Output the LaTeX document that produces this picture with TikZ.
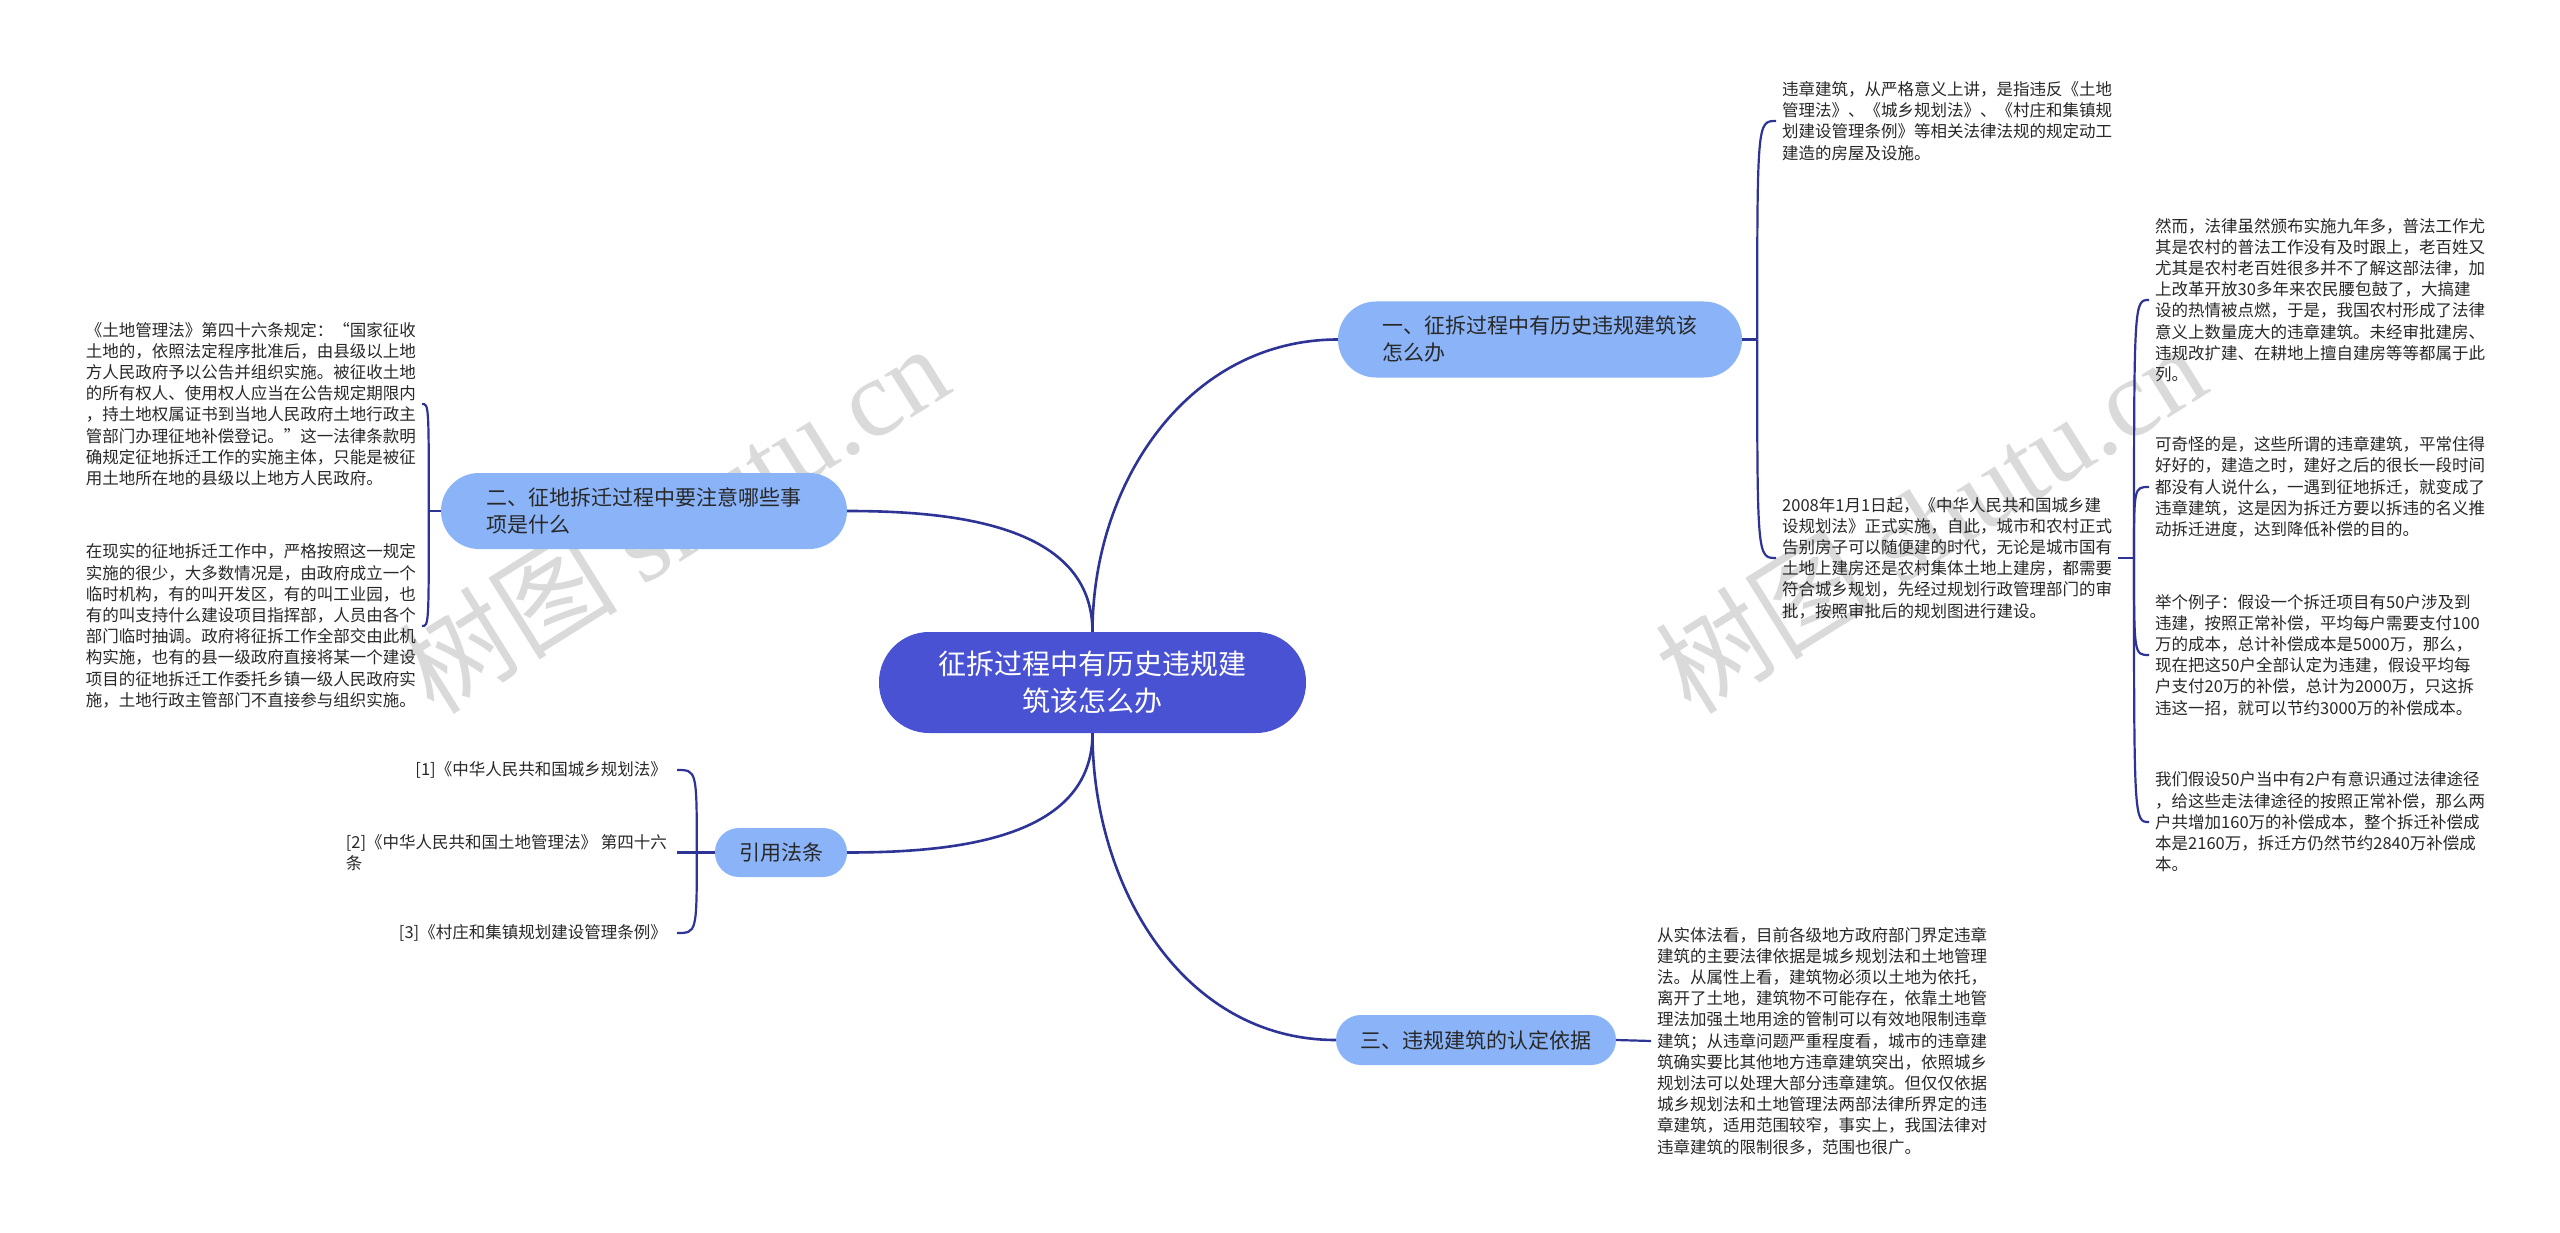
\documentclass[tikz,border=0pt]{standalone}
\usepackage{fontspec}
\setmainfont{Noto Sans CJK SC}
\newfontfamily\wmlatin{Liberation Serif}
\usetikzlibrary{calc}
\definecolor{linec}{RGB}{46,52,150}
\definecolor{rootc}{RGB}{74,82,212}
\definecolor{branchc}{RGB}{139,180,248}
\definecolor{txtc}{RGB}{40,40,40}
\definecolor{wmc}{RGB}{218,218,218}
\begin{document}
\begin{tikzpicture}[x=1pt,y=-1pt,
  conn/.style={draw=linec,line width=2.6pt},
  brk/.style={draw=linec,line width=2.2pt},
  root/.style={fill=rootc,text=white,rounded corners=50pt,minimum width=427pt,minimum height=101pt,inner sep=0pt,align=center,font=\fontsize{28}{37}\selectfont},
  branch/.style={fill=branchc,text=txtc,inner sep=0pt,align=left,font=\fontsize{21}{27}\selectfont},
  leaf/.style={text=txtc,inner xsep=6pt,inner ysep=2pt,align=left,font=\fontsize{16.5}{21.2}\selectfont},
  wm/.style={text=wmc,rotate=32,inner sep=0pt,font=\fontsize{110}{110}\selectfont}
]
\useasboundingbox[fill=white] (0,0) rectangle (2560,1233);

% watermarks
\node[wm] (wm1) at (673,518) {树图 {\wmlatin shutu.cn}};
\node[wm] (wm2) at (1930,518) {树图 {\wmlatin shutu.cn}};

% root and branches
\node[root] (root) at (1092.5,682.5) {征拆过程中有历史违规建\\筑该怎么办};
\node[branch,minimum width=404pt,minimum height=76pt,rounded corners=38pt] (b1) at (1540,339.5) {一、征拆过程中有历史违规建筑该\\怎么办};
\node[branch,minimum width=406pt,minimum height=76pt,rounded corners=38pt] (b2) at (644,511) {二、征地拆迁过程中要注意哪些事\\项是什么};
\node[branch,minimum width=132pt,minimum height=49pt,rounded corners=24pt,align=center] (b4) at (781,852.5) {引用法条};
\node[branch,minimum width=280pt,minimum height=50pt,rounded corners=25pt] (b3) at (1476,1040) {三、违规建筑的认定依据};

% branch 1 leaves
\node[leaf,anchor=west] (t1) at (1776,121) {违章建筑，从严格意义上讲，是指违反《土地\\
管理法》、《城乡规划法》、《村庄和集镇规\\
划建设管理条例》等相关法律法规的规定动工\\
建造的房屋及设施。};
\node[leaf,anchor=west] (t2) at (1776,558) {2008年1月1日起，《中华人民共和国城乡建\\
设规划法》正式实施，自此，城市和农村正式\\
告别房子可以随便建的时代，无论是城市国有\\
土地上建房还是农村集体土地上建房，都需要\\
符合城乡规划，先经过规划行政管理部门的审\\
批，按照审批后的规划图进行建设。};

% right column leaves
\node[leaf,anchor=west] (t3) at (2149,300) {然而，法律虽然颁布实施九年多，普法工作尤\\
其是农村的普法工作没有及时跟上，老百姓又\\
尤其是农村老百姓很多并不了解这部法律，加\\
上改革开放30多年来农民腰包鼓了，大搞建\\
设的热情被点燃，于是，我国农村形成了法律\\
意义上数量庞大的违章建筑。未经审批建房、\\
违规改扩建、在耕地上擅自建房等等都属于此\\
列。};
\node[leaf,anchor=west] (t4) at (2149,487) {可奇怪的是，这些所谓的违章建筑，平常住得\\
好好的，建造之时，建好之后的很长一段时间\\
都没有人说什么，一遇到征地拆迁，就变成了\\
违章建筑，这是因为拆迁方要以拆违的名义推\\
动拆迁进度，达到降低补偿的目的。};
\node[leaf,anchor=west] (t5) at (2149,655) {举个例子：假设一个拆迁项目有50户涉及到\\
违建，按照正常补偿，平均每户需要支付100\\
万的成本，总计补偿成本是5000万，那么，\\
现在把这50户全部认定为违建，假设平均每\\
户支付20万的补偿，总计为2000万，只这拆\\
违这一招，就可以节约3000万的补偿成本。};
\node[leaf,anchor=west] (t6) at (2149,822) {我们假设50户当中有2户有意识通过法律途径\\
，给这些走法律途径的按照正常补偿，那么两\\
户共增加160万的补偿成本，整个拆迁补偿成\\
本是2160万，拆迁方仍然节约2840万补偿成\\
本。};

% branch 2 leaves
\node[leaf,anchor=east] (l1) at (422,404) {《土地管理法》第四十六条规定：“国家征收\\
土地的，依照法定程序批准后，由县级以上地\\
方人民政府予以公告并组织实施。被征收土地\\
的所有权人、使用权人应当在公告规定期限内\\
，持土地权属证书到当地人民政府土地行政主\\
管部门办理征地补偿登记。”这一法律条款明\\
确规定征地拆迁工作的实施主体，只能是被征\\
用土地所在地的县级以上地方人民政府。};
\node[leaf,anchor=east] (l2) at (422,626) {在现实的征地拆迁工作中，严格按照这一规定\\
实施的很少，大多数情况是，由政府成立一个\\
临时机构，有的叫开发区，有的叫工业园，也\\
有的叫支持什么建设项目指挥部，人员由各个\\
部门临时抽调。政府将征拆工作全部交由此机\\
构实施，也有的县一级政府直接将某一个建设\\
项目的征地拆迁工作委托乡镇一级人民政府实\\
施，土地行政主管部门不直接参与组织实施。};

% citations
\node[leaf,anchor=east,inner xsep=10pt] (c1) at (677,770) {[1]《中华人民共和国城乡规划法》};
\node[leaf,anchor=east,inner xsep=10pt] (c2) at (677,852.5) {[2]《中华人民共和国土地管理法》 第四十六\\条};
\node[leaf,anchor=east,inner xsep=10pt] (c3) at (677,933) {[3]《村庄和集镇规划建设管理条例》};

% branch 3 leaf
\node[leaf,anchor=west] (tb) at (1651,1041) {从实体法看，目前各级地方政府部门界定违章\\
建筑的主要法律依据是城乡规划法和土地管理\\
法。从属性上看，建筑物必须以土地为依托，\\
离开了土地，建筑物不可能存在，依靠土地管\\
理法加强土地用途的管制可以有效地限制违章\\
建筑；从违章问题严重程度看，城市的违章建\\
筑确实要比其他地方违章建筑突出，依照城乡\\
规划法可以处理大部分违章建筑。但仅仅依据\\
城乡规划法和土地管理法两部法律所界定的违\\
章建筑，适用范围较窄，事实上，我国法律对\\
违章建筑的限制很多，范围也很广。};

% root connectors
\draw[conn] (root.north) to[out=90,in=180] (b1.west);
\draw[conn] (root.north) to[out=90,in=0] (b2.east);
\draw[conn] (root.south) to[out=-90,in=0] (b4.east);
\draw[conn] (root.south) to[out=-90,in=180] (b3.west);

% junctions
\coordinate (j1) at ($(b1.east)+(15,0)$);
\coordinate (j2) at (2134,558);
\coordinate (j3) at ($(b2.west)+(-12,0)$);
\coordinate (j4) at ($(b4.west)+(-18,0)$);

% branch 1 bracket
\draw[brk] (b1.east) -- (j1);
\draw[brk] (j1) .. controls (j1 |- t1.west) .. (t1.west);
\draw[brk] (j1) .. controls (j1 |- t2.west) .. (t2.west);

% right column bracket
\draw[brk] (t2.east) -- (j2);
\draw[brk] (j2) .. controls (j2 |- t3.west) .. (t3.west);
\draw[brk] (j2) .. controls (j2 |- t4.west) .. (t4.west);
\draw[brk] (j2) .. controls (j2 |- t5.west) .. (t5.west);
\draw[brk] (j2) .. controls (j2 |- t6.west) .. (t6.west);

% branch 2 bracket
\draw[brk] (b2.west) -- (j3);
\draw[brk] (j3) .. controls (j3 |- l1.east) .. (l1.east);
\draw[brk] (j3) .. controls (j3 |- l2.east) .. (l2.east);

% citation bracket
\draw[brk] (b4.west) -- (j4);
\draw[brk] (j4) .. controls (j4 |- c1.east) .. (c1.east);
\draw[brk] (j4) -- (c2.east);
\draw[brk] (j4) .. controls (j4 |- c3.east) .. (c3.east);

% branch 3
\draw[brk] (b3.east) -- (tb.west);
\end{tikzpicture}
\end{document}
